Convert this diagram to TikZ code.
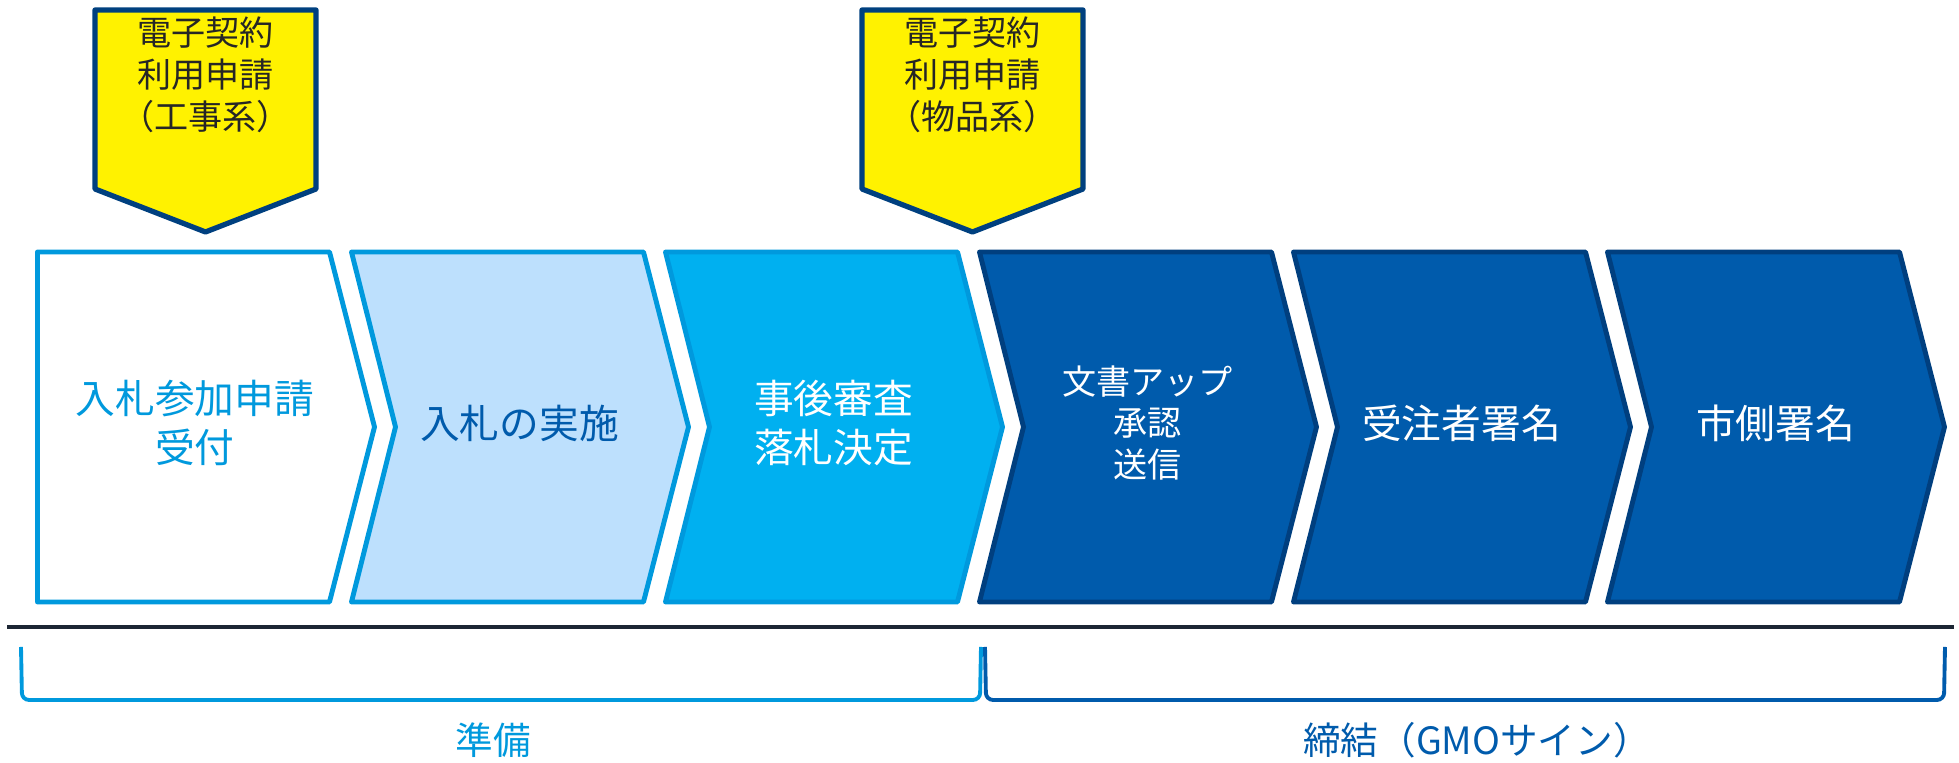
\documentclass[tikz,border=0pt]{standalone}
\usepackage{fontspec}
\setmainfont{Noto Sans CJK JP}
\usepackage{xcolor}
\definecolor{prepline}{HTML}{0099DD}
\definecolor{prepfill}{HTML}{BDE0FD}
\definecolor{checkfill}{HTML}{00B0F0}
\definecolor{signfill}{HTML}{005BAC}
\definecolor{signline}{HTML}{003F7F}
\definecolor{flagline}{HTML}{00407F}
\definecolor{rulecol}{HTML}{1C2634}

\begin{document}
\begin{tikzpicture}[
line join=round,
stage/.style={line width=1.4pt},
prep/.style={stage,draw=prepline},
sign/.style={stage,draw=signline,fill=signfill},
flag/.style={draw=flagline,fill=yellow,line width=1.5pt},
bigtxt/.style={align=center,font=\fontsize{11.3}{13.7}\selectfont},
smalltxt/.style={align=center,font=\fontsize{9.7}{11.9}\selectfont},
bracket/.style={line width=1.1pt,rounded corners=2pt},
]
\useasboundingbox (0,0) rectangle (19.59,7.63);

% chevrons
\draw[prep,fill=white] (0.375,5.11) -- (3.295,5.11) -- (3.745,3.36) -- (3.295,1.61) -- (0.375,1.61) -- cycle;
\draw[prep,fill=prepfill,shift={(3.515,0)}] (0,5.11) -- (2.92,5.11) -- (3.37,3.36) -- (2.92,1.61) -- (0,1.61) -- (0.44,3.36) -- cycle;
\draw[prep,fill=checkfill,shift={(6.655,0)}] (0,5.11) -- (2.92,5.11) -- (3.37,3.36) -- (2.92,1.61) -- (0,1.61) -- (0.44,3.36) -- cycle;
\draw[sign,shift={(9.795,0)}] (0,5.11) -- (2.92,5.11) -- (3.37,3.36) -- (2.92,1.61) -- (0,1.61) -- (0.44,3.36) -- cycle;
\draw[sign,shift={(12.935,0)}] (0,5.11) -- (2.92,5.11) -- (3.37,3.36) -- (2.92,1.61) -- (0,1.61) -- (0.44,3.36) -- cycle;
\draw[sign,shift={(16.075,0)}] (0,5.11) -- (2.92,5.11) -- (3.37,3.36) -- (2.92,1.61) -- (0,1.61) -- (0.44,3.36) -- cycle;

% chevron texts
\node[bigtxt,text=prepline] (apply) at (1.95,3.40) {入札参加申請\\受付};
\node[bigtxt,text=signfill] (bid) at (5.195,3.40) {入札の実施};
\node[bigtxt,text=white] (review) at (8.335,3.40) {事後審査\\落札決定};
\node[smalltxt,text=white] (upload) at (11.475,3.40) {文書アップ\\承認\\送信};
\node[bigtxt,text=white] (vendor) at (14.615,3.40) {受注者署名};
\node[bigtxt,text=white] (city) at (17.755,3.40) {市側署名};

% flags
\draw[flag] (0.95,7.53) -- (3.16,7.53) -- (3.16,5.74) -- (2.055,5.31) -- (0.95,5.74) -- cycle;
\draw[flag] (8.62,7.53) -- (10.83,7.53) -- (10.83,5.74) -- (9.725,5.31) -- (8.62,5.74) -- cycle;
\node[smalltxt,text=black!85] (works) at (2.055,6.88) {電子契約\\利用申請\\（工事系）};
\node[smalltxt,text=black!85] (goods) at (9.725,6.88) {電子契約\\利用申請\\（物品系）};

% rule and brackets
\coordinate (ruleL) at (0.075,1.36);
\coordinate (ruleR) at (19.54,1.36);
\draw[line width=1pt,rulecol] (ruleL) -- (ruleR);
\draw[bracket,prepline] (0.21,1.16) -- (0.22,0.63) -- (9.80,0.63) -- (9.81,1.16);
\draw[bracket,signfill] (9.85,1.16) -- (9.86,0.63) -- (19.44,0.63) -- (19.45,1.16);
\node[font=\fontsize{10.7}{12}\selectfont,text=prepline] (prepare) at (4.93,0.23) {準備};
\node[font=\fontsize{10.7}{12}\selectfont,text=signfill] (conclude) at (14.77,0.23) {締結（GMOサイン）};
\end{tikzpicture}
\end{document}
